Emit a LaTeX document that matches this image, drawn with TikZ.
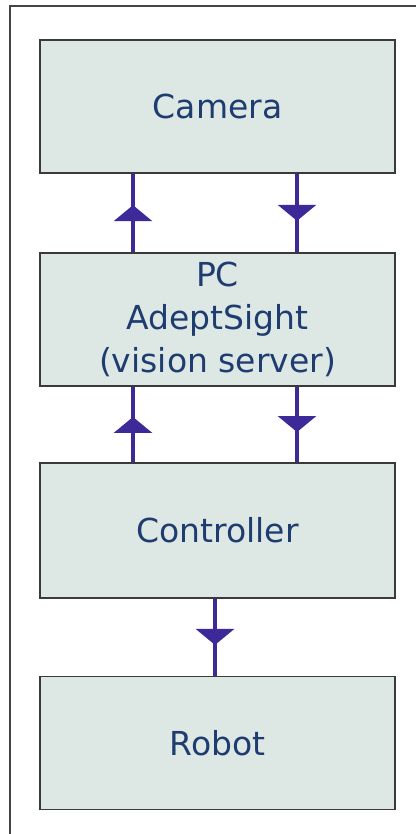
\documentclass[tikz,border=0pt]{standalone}
\usepackage{fontspec}
\setmainfont{DejaVu Sans}
\usetikzlibrary{arrows.meta,decorations.markings}
\definecolor{boxfill}{HTML}{DDE8E4}
\definecolor{boxline}{HTML}{3A3A3A}
\definecolor{txtblue}{HTML}{1F3C70}
\definecolor{arrowc}{HTML}{3D2A98}
\definecolor{framec}{HTML}{444444}
\tikzset{
  blockbox/.style={draw=boxline, line width=1.5pt, fill=boxfill, minimum width=355pt,
    minimum height=133pt, inner sep=0pt, text=txtblue, align=center,
    font=\fontsize{33}{43}\selectfont},
  conn/.style={draw=arrowc, line width=3.2pt,
    postaction={decorate},
    decoration={markings, mark=at position 0.6 with {\arrow[arrowc]{Triangle[width=38pt,length=16pt]}}}}
}
\begin{document}
\begin{tikzpicture}[x=1pt,y=-1pt]
\useasboundingbox (0,0) rectangle (415,834);
\fill[white] (0,0) rectangle (415,834);
\draw[framec, line width=1.3pt] (10,6) rectangle (430,850);
\node[blockbox] (cam) at (217.5,106.5) {Camera};
\node[blockbox] (pc) at (217.5,319.5) {PC\\AdeptSight\\(vision server)};
\node[blockbox, minimum height=135pt] (ctl) at (217.5,530.5) {Controller};
\node[blockbox] (rob) at (217.5,743) {Robot};
\coordinate (L) at (133,0);
\coordinate (R) at (297,0);
\coordinate (M) at (215,0);
\draw[conn] (L |- pc.north) -- (L |- cam.south);
\draw[conn] (R |- cam.south) -- (R |- pc.north);
\draw[conn] (L |- ctl.north) -- (L |- pc.south);
\draw[conn] (R |- pc.south) -- (R |- ctl.north);
\draw[conn] (M |- ctl.south) -- (M |- rob.north);
\end{tikzpicture}
\end{document}
